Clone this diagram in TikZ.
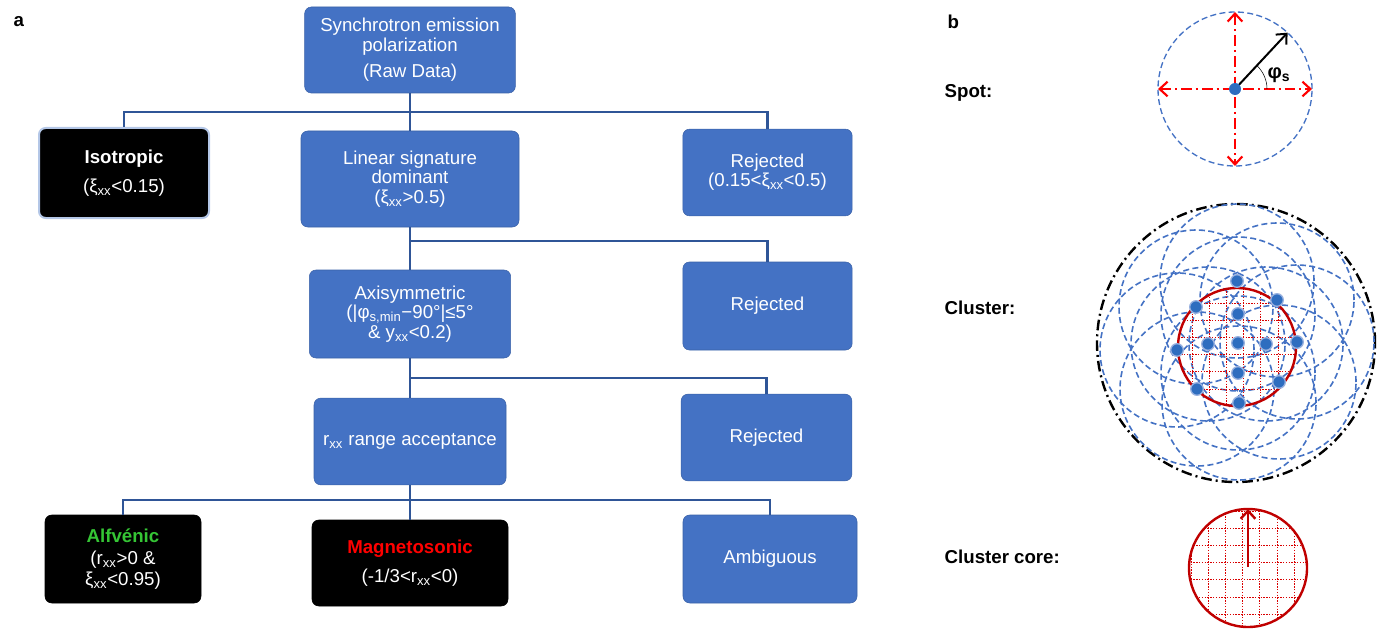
\documentclass[tikz,border=0pt]{standalone}
\usepackage{fontspec}
\setmainfont{Liberation Sans}
\usepackage{xcolor}
\usetikzlibrary{arrows.meta}

\definecolor{boxblue}{HTML}{4472C4}
\definecolor{linkblue}{HTML}{2F5597}
\definecolor{isoedge}{HTML}{B4C7E7}
\definecolor{coreRed}{HTML}{C00000}
\definecolor{alfgreen}{HTML}{35C535}
\definecolor{dotblue}{HTML}{2E6DBF}

\newcommand{\xx}{\textsubscript{xx}}

\begin{document}
\begin{tikzpicture}[x=0.75pt,y=0.75pt,
    flow/.style={fill=boxblue, draw=boxblue!85!black, rounded corners=5pt,
        text=white, align=center, inner sep=2pt,
        font=\fontsize{14}{14.5}\selectfont},
    dark/.style={flow, fill=black, draw=black},
    link/.style={linkblue, line width=1.6pt},
    lbl/.style={anchor=west, font=\fontsize{14}{16}\selectfont\bfseries},
    bluedash/.style={boxblue, line width=1.2pt, dash pattern=on 4.5pt off 2.5pt},
    gridline/.style={red!85!black, line width=0.65pt, dash pattern=on 1pt off 1.1pt},
    barb/.style={-{Straight Barb[length=6pt,width=11pt]}},
    spotdot/.style={fill=dotblue, draw=boxblue!55!white, line width=1pt}]

\useasboundingbox (0,0) rectangle (1384,-631);

% =====================
% Panel labels
% =====================
\node[lbl] (pa) at (9,-22) {a};
\node[lbl] (pb) at (943,-22) {b};

% =====================
% Decision tree (panel a)
% =====================
\node[flow, minimum width=158pt, minimum height=64.5pt] (raw) at (410,-50)
    {Synchrotron emission\\polarization\\[5.5pt](Raw Data)};

\node[flow, fill=black, draw=isoedge, line width=1.5pt,
      minimum width=127.5pt, minimum height=67.5pt] (iso) at (124,-173)
    {\textbf{Isotropic}\\[7.5pt](ξ\xx<0.15)};

\node[flow, minimum width=163.5pt, minimum height=72pt] (lin) at (410,-179)
    {Linear signature\\dominant\\(ξ\xx>0.5)};

\node[flow, minimum width=127pt, minimum height=65pt] (rej1) at (767.5,-172.5)
    {Rejected\\(0.15<ξ\xx<0.5)};

\node[flow, minimum width=151pt, minimum height=66pt] (axi) at (410,-314)
    {Axisymmetric\\(|φ\textsubscript{s,min}−90°|≤5°\\\& y\xx<0.2)};

\node[flow, minimum width=127pt, minimum height=66pt] (rej2) at (767.5,-306)
    {Rejected};

\node[flow, minimum width=144pt, minimum height=65pt] (rng) at (410,-441.5)
    {r\xx{} range acceptance};

\node[flow, minimum width=128pt, minimum height=65pt] (rej3) at (766.5,-437.5)
    {Rejected};

\node[dark, minimum width=117pt, minimum height=66pt] (alf) at (123,-559)
    {\textcolor{alfgreen}{\textbf{Alfvénic}}\\[2pt](r\xx>0 \&\\[1pt]ξ\xx<0.95)};

\node[dark, minimum width=147pt, minimum height=64.5pt] (mag) at (410,-563)
    {\textcolor{red}{\textbf{Magnetosonic}}\\[7.5pt](-1/3<r\xx<0)};

\node[flow, minimum width=130.5pt, minimum height=66pt] (amb) at (770,-559)
    {Ambiguous};

% connectors
\coordinate (bus1) at (410,-112);
\coordinate (bus2) at (410,-241);
\coordinate (bus3) at (410,-378);
\coordinate (bus4) at (410,-500);

\draw[link] (raw.south) -- (lin.north);
\draw[link] (iso.north) |- (bus1) -| (rej1.north);

\draw[link] (lin.south) -- (axi.north);
\draw[link] (bus2) -| (rej2.north);

\draw[link] (axi.south) -- (rng.north);
\draw[link] (bus3) -| (rej3.north);

\draw[link] (rng.south) -- (mag.north);
\draw[link] (alf.north) |- (bus4) -| (amb.north);

% =====================
% Spot (panel b)
% =====================
\node[lbl] (spotlbl) at (940,-93) {Spot:};

\coordinate (spot) at (1235,-89);
\draw[bluedash, line width=1pt] (spot) circle (77);

\draw[red, line width=1.6pt, dash pattern=on 8pt off 3pt on 1.5pt off 3pt,
      {Straight Barb[length=6pt,width=11pt]}-{Straight Barb[length=6pt,width=11pt]}]
    (1158,-89) -- (1312,-89);
\draw[red, line width=1.6pt, dash pattern=on 8pt off 3pt on 1.5pt off 3pt,
      {Straight Barb[length=6pt,width=11pt]}-{Straight Barb[length=6pt,width=11pt]}]
    (1235,-12) -- (1235,-166);

\draw[line width=1.5pt, barb] (spot) -- ++(47:77);
\draw[thin] (1267,-89) arc[start angle=0, end angle=46, radius=32];
\node[font=\fontsize{15}{16}\selectfont\bfseries] (phis) at (1279,-75)
    {φ\textsubscript{s}};

\fill[dotblue] (spot) circle (6);

% =====================
% Cluster
% =====================
\node[lbl] (clulbl) at (940,-308) {Cluster:};

\draw[black, line width=1.8pt, dash pattern=on 8pt off 3pt on 1.5pt off 3pt]
    (1236,-343) circle (139);

% one spot circle round every outer and inner spot
\foreach \x/\y in {1177/350, 1297/342, 1237/281, 1239/403,
                   1196/307, 1277/300, 1197/389, 1279/382,
                   1208/344, 1266/344, 1238/314, 1238/373} {
    \draw[bluedash] (\x,-\y) circle (77);
}

\begin{scope}
  \clip (1237,-347) circle (59);
  \foreach \g in {1192,1209.2,...,1300} {
      \draw[gridline] (\g,-280) -- (\g,-410);
  }
  \foreach \g in {303,320.2,...,410} {
      \draw[gridline] (1170,-\g) -- (1300,-\g);
  }
\end{scope}
\draw[coreRed, line width=1.8pt] (1237,-347) circle (59);

\foreach \x/\y in {1177/350, 1297/342, 1237/281, 1239/403,
                   1196/307, 1277/300, 1197/389, 1279/382,
                   1208/344, 1266/344, 1238/314, 1238/373, 1238/343} {
    \filldraw[spotdot] (\x,-\y) circle (6.3);
}

% =====================
% Cluster core
% =====================
\node[lbl] (corelbl) at (940,-557) {Cluster core:};

\begin{scope}
  \clip (1248,-568) circle (59);
  \foreach \g in {1191,1208.2,...,1310} {
      \draw[gridline] (\g,-505) -- (\g,-631);
  }
  \foreach \g in {511,528.2,...,630} {
      \draw[gridline] (1185,-\g) -- (1310,-\g);
  }
\end{scope}
\draw[coreRed, line width=1.8pt] (1248,-568) circle (59);
\draw[coreRed, line width=1.8pt, barb] (1248,-567) -- (1248,-509);

\end{tikzpicture}
\end{document}
